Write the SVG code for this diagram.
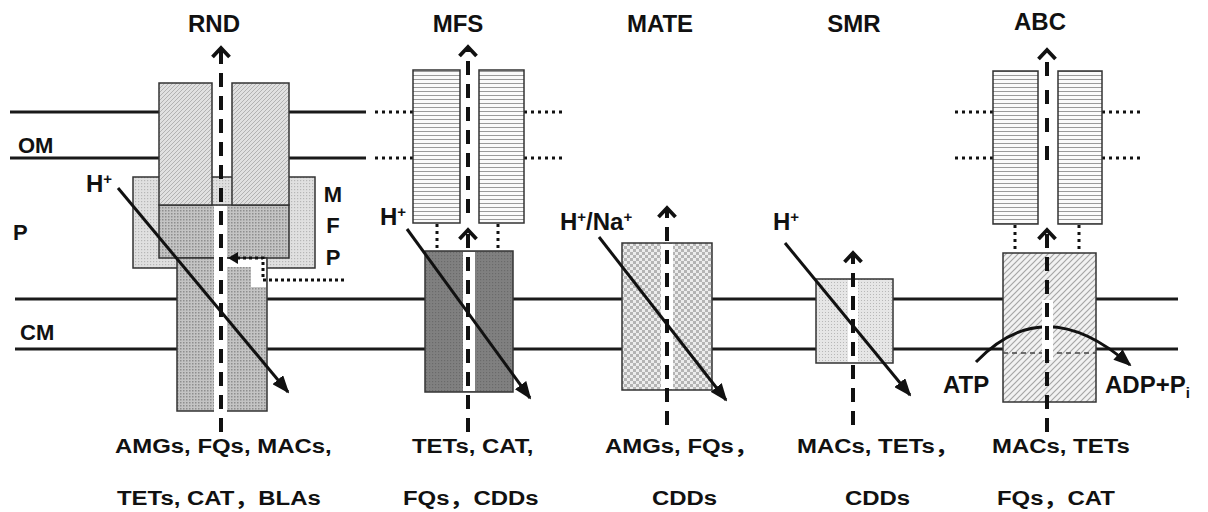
<svg xmlns="http://www.w3.org/2000/svg" width="1208" height="512" viewBox="0 0 1208 512">
<style>
text{font-family:"Liberation Sans","Noto Sans CJK SC",Arial,sans-serif;font-weight:bold;fill:#111}
.t{font-size:24px;text-anchor:middle}
.s{font-size:22px}
.ion{font-size:24px}
.sup{font-size:15px}
.lbl{font-size:21px}
.mem{stroke:#1a1a1a;stroke-width:3;fill:none}
.box{stroke:#333;stroke-width:1.5}
.dot{stroke:#111;stroke-width:3;stroke-dasharray:3 4;fill:none}
.dash{stroke:#111;stroke-width:4;stroke-dasharray:14 9;fill:none;marker-end:url(#chev)}
.diag{stroke:#111;stroke-width:3;fill:none;marker-end:url(#tri)}
.ch{fill:#fff}
</style>
<defs>
<pattern id="pHatch" width="4" height="4" patternUnits="userSpaceOnUse"><rect width="4" height="4" fill="#e0e0e0"/><path d="M-1,1 L1,-1 M0,4 L4,0 M3,5 L5,3" stroke="#b2b2b2" stroke-width="1"/></pattern>
<pattern id="pDotDark" width="3" height="3" patternUnits="userSpaceOnUse"><rect width="3" height="3" fill="#c4c4c4"/><rect width="1.5" height="1.5" fill="#8e8e8e"/></pattern>
<pattern id="pDotLight" width="3" height="3" patternUnits="userSpaceOnUse"><rect width="3" height="3" fill="#e0e0e0"/><rect width="1.2" height="1.2" fill="#b6b6b6"/></pattern>
<pattern id="pH" width="6" height="4" patternUnits="userSpaceOnUse"><rect width="6" height="4" fill="#fafafa"/><rect y="3" width="6" height="1" fill="#9a9a9a"/></pattern>
<pattern id="pCheck" width="6" height="6" patternUnits="userSpaceOnUse"><rect width="6" height="6" fill="#ececec"/><rect width="3" height="3" fill="#b4b4b4"/><rect x="3" y="3" width="3" height="3" fill="#b4b4b4"/></pattern>
<pattern id="pSmr" width="3" height="3" patternUnits="userSpaceOnUse"><rect width="3" height="3" fill="#e6e6e6"/><rect width="1" height="1" fill="#b8b8b8"/></pattern>
<pattern id="pAbc" width="6" height="6" patternUnits="userSpaceOnUse"><rect width="6" height="6" fill="#f2f2f2"/><path d="M-1,7 L7,-1 M-1,1 L1,-1 M5,7 L7,5" stroke="#a6a6a6" stroke-width="1.2"/></pattern>
<pattern id="pDark" width="3" height="3" patternUnits="userSpaceOnUse"><rect width="3" height="3" fill="#808080"/><rect width="1.2" height="1.2" fill="#6a6a6a"/></pattern>
<marker id="chev" markerUnits="userSpaceOnUse" markerWidth="20" markerHeight="24" refX="12" refY="12" orient="auto" viewBox="0 0 20 24"><path d="M3,3.5 L12,12 L3,20.5" fill="none" stroke="#111" stroke-width="3.8" stroke-dasharray="none"/></marker>
<marker id="tri" markerUnits="userSpaceOnUse" markerWidth="18" markerHeight="14" refX="16" refY="7" orient="auto" viewBox="0 0 18 14"><path d="M0,0 L18,7 L0,14 Z" fill="#111"/></marker>
</defs>
<rect width="1208" height="512" fill="#fff"/>

<g id="membranes">
<path class="mem" d="M10,112 H159 M289,112 H366 M10,158 H159 M289,158 H366"/>
<path class="mem" d="M15,299 H1178 M15,349 H1178"/>
<path class="dot" d="M375,112 H413 M375,158 H413 M524,112 H562 M524,158 H562 M955,112 H993 M955,158 H993 M1102,112 H1140 M1102,158 H1140"/>
<text class="s" x="18" y="153">OM</text>
<text class="s" x="13" y="240">P</text>
<text class="s" x="20" y="340">CM</text>
</g>

<g id="rnd">
<rect class="box" x="133" y="177" width="182" height="91" fill="url(#pDotLight)"/>
<rect class="box" x="159" y="205" width="130" height="53" fill="url(#pDotDark)"/>
<rect class="box" x="159" y="83" width="53" height="122" fill="url(#pHatch)"/>
<rect class="box" x="232" y="83" width="57" height="122" fill="url(#pHatch)"/>
<rect class="box" x="177" y="258" width="90" height="153" fill="url(#pDotDark)"/>
<rect class="ch" x="214" y="206" width="13" height="214"/>
<rect class="ch" x="227" y="259" width="38" height="8"/>
<rect class="ch" x="251" y="259" width="15" height="28"/>
<text class="t" x="214" y="32">RND</text>
<text class="s" x="333" y="202" text-anchor="middle">M</text>
<text class="s" x="333" y="233" text-anchor="middle">F</text>
<text class="s" x="333" y="265" text-anchor="middle">P</text>
<text class="ion" x="86" y="192">H<tspan class="sup" dy="-8">+</tspan></text>
<text class="lbl" transform="translate(115,453) scale(1.14,1)">AMGs, FQs, MACs,</text>
<text class="lbl" transform="translate(117,505) scale(1.14,1)">TETs, CAT，BLAs</text>
</g>

<g id="mfs">
<rect class="box" x="413" y="70" width="47" height="153" fill="url(#pH)"/>
<rect class="box" x="479" y="70" width="45" height="153" fill="url(#pH)"/>
<rect class="box" x="425" y="251" width="88" height="141" fill="url(#pDark)"/>
<rect class="ch" x="463" y="252" width="12" height="139"/>
<text class="t" x="458" y="32">MFS</text>
<text class="ion" x="380" y="225">H<tspan class="sup" dy="-8">+</tspan></text>
<text class="lbl" transform="translate(412,453) scale(1.14,1)">TETs, CAT,</text>
<text class="lbl" transform="translate(403,505) scale(1.14,1)">FQs，CDDs</text>
</g>

<g id="mate">
<rect class="box" x="622" y="243" width="90" height="147" fill="url(#pCheck)"/>
<rect class="ch" x="661" y="244" width="12" height="145"/>
<text class="t" x="660" y="32">MATE</text>
<text class="ion" x="560" y="230">H<tspan class="sup" dy="-8">+</tspan><tspan dy="8">/Na</tspan><tspan class="sup" dy="-8">+</tspan></text>
<text class="lbl" transform="translate(605,453) scale(1.14,1)">AMGs, FQs，</text>
<text class="lbl" transform="translate(652,505) scale(1.14,1)">CDDs</text>
</g>

<g id="smr">
<rect class="box" x="816" y="279" width="77" height="84" fill="url(#pSmr)"/>
<rect class="ch" x="848" y="280" width="10" height="82"/>
<text class="t" x="854" y="32">SMR</text>
<text class="ion" x="773" y="230">H<tspan class="sup" dy="-8">+</tspan></text>
<text class="lbl" transform="translate(797,453) scale(1.14,1)">MACs, TETs，</text>
<text class="lbl" transform="translate(845,505) scale(1.14,1)">CDDs</text>
</g>

<g id="abc">
<rect class="box" x="993" y="71" width="45" height="153" fill="url(#pH)"/>
<rect class="box" x="1058" y="71" width="44" height="153" fill="url(#pH)"/>
<rect class="box" x="1003" y="253" width="93" height="149" fill="url(#pAbc)"/>
<path d="M1003,353 H1096" stroke="#444" stroke-width="1.5" stroke-dasharray="5 4"/>
<text class="t" x="1040" y="30">ABC</text>
<text class="ion" x="943" y="393">ATP</text>
<text class="ion" x="1105" y="393">ADP+P<tspan class="sup" dy="5">i</tspan></text>
<text class="lbl" transform="translate(992,453) scale(1.14,1)">MACs, TETs</text>
<text class="lbl" transform="translate(997,505) scale(1.14,1)">FQs，CAT</text>
</g>

<g id="connectors">
<path class="dot" d="M437,224 V250 M498,224 V250 M1015,225 V252 M1079,225 V252"/>
<path d="M344,280 H263 V258 H236" fill="none" stroke="#111" stroke-width="3" stroke-dasharray="3 3"/>
<path d="M238,252 L228,258 L238,264 Z" fill="#111"/>
<path class="diag" d="M118,188 L288,392"/>
<path class="diag" d="M407,229 L530,398"/>
<path class="diag" d="M599,237 L726,400"/>
<path class="diag" d="M785,243 L910,395"/>
<path class="diag" d="M976,362 Q1045,290 1130,365"/>
<rect class="ch" x="1042" y="300" width="11" height="60"/>
<path class="dash" d="M221,432 V48"/>
<path class="dash" d="M468,213 V47"/>
<path class="dash" d="M468,432 V230"/>
<path class="dash" d="M667,425 V208"/>
<path class="dash" d="M853,425 V253"/>
<path class="dash" d="M1047,160 V50" style="stroke-dasharray:14 14"/>
<path class="dash" d="M1047,432 V230"/>
</g>
</svg>
